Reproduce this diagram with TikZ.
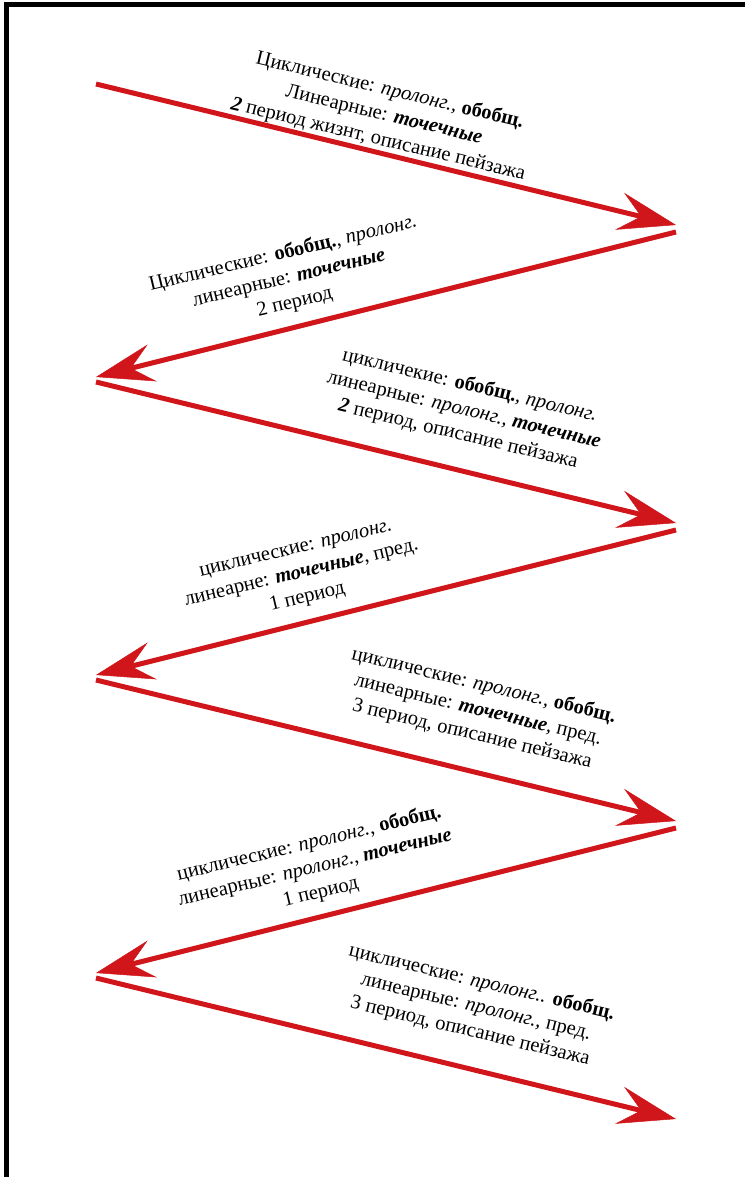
\documentclass[tikz,border=0pt]{standalone}
\usepackage{fontspec}
\setmainfont{Liberation Serif}
\usetikzlibrary{positioning,arrows.meta}
\definecolor{zigred}{RGB}{208,22,27}
\tikzset{
  zig/.style={draw=zigred,line width=5pt,
    -{Stealth[length=58pt,width=38pt,inset=22pt,line width=0.5pt]}},
  note/.style={align=center,inner sep=0pt,font=\fontsize{20.5}{25}\selectfont}
}

\begin{document}
\begin{tikzpicture}[x=1pt,y=-1pt]
  \useasboundingbox (0,0) rectangle (745,1177);
  \draw[line width=5pt] (6,1177) -- (6,4.5) -- (745,4.5);

  \foreach \i in {0,...,3}{
    \coordinate (a\i) at (96,{84+298*\i});
    \coordinate (b\i) at (676,{225+298*\i});
    \draw[zig] (a\i) -- (b\i);
  }
  \foreach \i in {0,...,2}{
    \coordinate (c\i) at (676,{232+298*\i});
    \coordinate (d\i) at (96,{377+298*\i});
    \draw[zig] (c\i) -- (d\i);
  }

  \node[note,rotate=-13.5] (t1) at (384,115)
    {Циклические: \textit{пролонг.}, \textbf{обобщ.}\\
     Линеарные: \textbf{\textit{точечные}}\\
     \textbf{\textit{2}} период жизнт, описание пейзажа};
  \node[note,rotate=13.5] (t2) at (289,278)
    {Циклические: \textbf{обобщ.}, \textit{пролонг.}\\
     линеарные: \textbf{\textit{точечные}}\\
     2 период};
  \node[note,rotate=-13.5] (t3) at (464,410)
    {цикличекие: \textbf{обобщ.}, \textit{пролонг.}\\
     линеарные: \textit{пролонг.}, \textbf{\textit{точечные}}\\
     \textbf{\textit{2}} период, описание пейзажа};
  \node[note,rotate=13.5] (t4) at (302,575)
    {циклические: \textit{пролонг.}\\
     линеарне: \textbf{\textit{точечные}}, пред.\\
     1 период};
  \node[note,rotate=-13.5] (t5) at (478,710)
    {циклические: \textit{пролонг.}, \textbf{обобщ.}\\
     линеарные: \textbf{\textit{точечные}}, пред.\\
     3 период, описание пейзажа};
  \node[note,rotate=13.5] (t6) at (315,868)
    {циклические: \textit{пролонг.}, \textbf{обобщ.}\\
     линеарные: \textit{пролонг.}, \textbf{\textit{точечные}}\\
     1 период};
  \node[note,rotate=-13.5] (t7) at (476,1007)
    {циклические: \textit{пролонг..} \textbf{обобщ.}\\
     линеарные: \textit{пролонг.}, пред.\\
     3 период, описание пейзажа};
\end{tikzpicture}
\end{document}
